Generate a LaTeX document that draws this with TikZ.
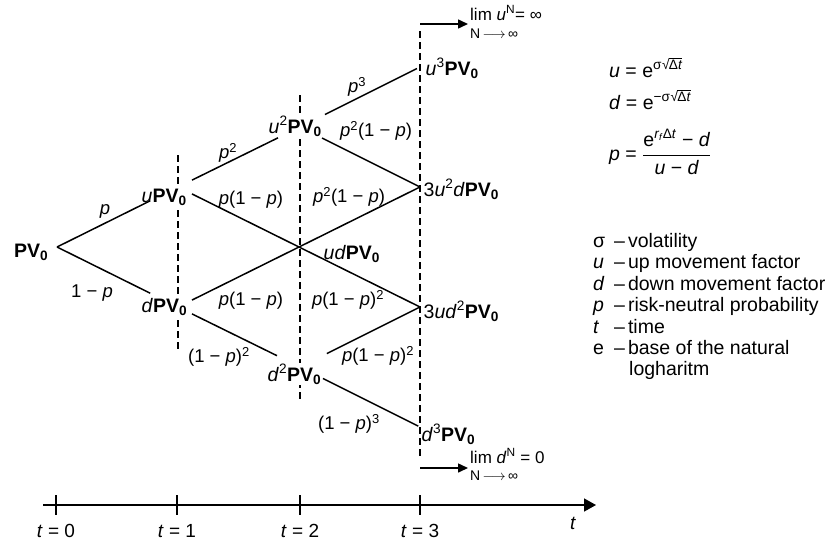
\documentclass[tikz,border=0pt]{standalone}
\usepackage{fontspec}
\setmainfont{Liberation Sans}
\usetikzlibrary{arrows.meta}
\newcommand\PVz{\textbf{PV\textsubscript{0}}}
\newcommand\sqbar[1]{√\kern-0.04em\setbox0\hbox{#1}\rlap{\rule[\dimexpr\ht0+0.1em\relax]{\wd0}{0.06em}}\box0}
\tikzset{
  lbl/.style={font=\fontsize{19.5}{21}\selectfont, inner sep=0.5pt, fill=white},
  elbl/.style={font=\fontsize{18.5}{21}\selectfont, inner sep=0pt},
  leg/.style={font=\fontsize{19.5}{21}\selectfont, inner sep=0pt, anchor=base west},
  lim/.style={font=\fontsize{17}{19}\selectfont, inner sep=0pt, anchor=west},
  limsm/.style={font=\fontsize{14}{16}\selectfont, inner sep=0pt, anchor=west},
  br/.style={line width=1.5pt},
  dsh/.style={line width=1.3pt, dash pattern=on 7pt off 4pt},
  tip/.style={-{Triangle[length=10pt,width=9pt]}},
  tlab/.style={font=\fontsize{19}{21}\selectfont, inner sep=0pt, anchor=base},
}
\begin{document}
\begin{tikzpicture}[x=1pt,y=-1pt]
\useasboundingbox[fill=white] (0,0) rectangle (834,541);
% lattice vertices
\coordinate (v0) at (57,247);
\coordinate (v1u) at (178,187);
\coordinate (v1d) at (178,307);
\coordinate (v2a) at (300,127);
\coordinate (v2b) at (300,247);
\coordinate (v2c) at (300,367);
\coordinate (v3a) at (420,67);
\coordinate (v3b) at (420,187);
\coordinate (v3c) at (420,307);
\coordinate (v3d) at (420,427);
% dashed time lines
\coordinate (d1t) at (178,155); \coordinate (d1b) at (178,352);
\coordinate (d2t) at (300,95);  \coordinate (d2b) at (300,400);
\coordinate (d3t) at (420,31);  \coordinate (d3b) at (420,458);
\draw[dsh] (d1t) -- (d1b);
\draw[dsh] (d2t) -- (d2b);
\draw[dsh] (d3t) -- (d3b);
% limit arrows
\coordinate (a1s) at (420,24); \coordinate (a1e) at (468,24);
\coordinate (a2s) at (420,468); \coordinate (a2e) at (468,468);
\draw[br,tip] (a1s) -- (a1e);
\draw[br,tip] (a2s) -- (a2e);
\node[lim] (limu) at (470,13) {lim \textit{u}\textsuperscript{N}= ∞};
\node[limsm] (limu2) at (470,34) {N\,\ensuremath{\longrightarrow}\,∞};
\node[lim] (limd) at (470,456) {lim \textit{d}\textsuperscript{N} = 0};
\node[limsm] (limd2) at (470,476) {N\,\ensuremath{\longrightarrow}\,∞};
% node labels
\node[lbl,anchor=base east] (n0) at (49,257) {\PVz};
\node[lbl,anchor=base west] (n1u) at (141,202) {\textit{u}\PVz};
\node[lbl,anchor=base west] (n1d) at (141,312) {\textit{d}\PVz};
\node[lbl,anchor=base west] (n2a) at (268,133) {\textit{u}\textsuperscript{2}\PVz};
\node[lbl,anchor=base west] (n2b) at (323,259) {\textit{ud}\PVz};
\node[lbl,anchor=base west] (n2c) at (267,381) {\textit{d}\textsuperscript{2}\PVz};
\node[lbl,anchor=base west] (n3a) at (425,75) {\textit{u}\textsuperscript{3}\PVz};
\node[lbl,anchor=base west] (n3b) at (423,196) {3\textit{u}\textsuperscript{2}\textit{d}\PVz};
\node[lbl,anchor=base west] (n3c) at (423,318) {3\textit{ud}\textsuperscript{2}\PVz};
\node[lbl,anchor=base west] (n3d) at (421,441) {\textit{d}\textsuperscript{3}\PVz};
% branches
\draw[br, shorten >=31pt] (v0) -- (v1u);
\draw[br, shorten >=31pt] (v0) -- (v1d);
\draw[br, shorten <=15.6pt, shorten >=24.5pt] (v1u) -- (v2a);
\draw[br, shorten <=27.9pt, shorten >=3.4pt] (v2a) -- (v3a);
\draw[br, shorten <=15.6pt] (v1u) -- (v3c);
\draw[br, shorten <=15.6pt] (v1d) -- (v3b);
\draw[br, shorten <=15.6pt, shorten >=25.7pt] (v1d) -- (v2c);
\draw[br, shorten <=24.6pt] (v2a) -- (v3b);
\draw[br, shorten <=30pt] (v2c) -- (v3c);
\draw[br, shorten <=25.7pt, shorten >=2pt] (v2c) -- (v3d);
% branch probabilities
\node[elbl] (e1) at (105,211) {\textit{p}};
\node[elbl] (e2) at (92,293) {1 − \textit{p}};
\node[elbl] (e3) at (228,153) {\textit{p}\textsuperscript{2}};
\node[elbl] (e4) at (251,200) {\textit{p}(1 − \textit{p})};
\node[elbl] (e5) at (357,87) {\textit{p}\textsuperscript{3}};
\node[elbl] (e6) at (376,131) {\textit{p}\textsuperscript{2}(1 − \textit{p})};
\node[elbl] (e7) at (349,197) {\textit{p}\textsuperscript{2}(1 − \textit{p})};
\node[elbl] (e8) at (251,301) {\textit{p}(1 − \textit{p})};
\node[elbl] (e9) at (348,300) {\textit{p}(1 − \textit{p})\textsuperscript{2}};
\node[elbl] (e10) at (219,357) {(1 − \textit{p})\textsuperscript{2}};
\node[elbl] (e11) at (378,356) {\textit{p}(1 − \textit{p})\textsuperscript{2}};
\node[elbl] (e12) at (349,424) {(1 − \textit{p})\textsuperscript{3}};
% formulas
\node[leg] (fu) at (609,77) {\textit{u} = e\textsuperscript{σ\kern0.5pt\sqbar{Δ\textit{t}}}};
\node[leg] (fd) at (609,109) {\textit{d} = e\textsuperscript{−σ\kern0.5pt\sqbar{Δ\textit{t}}}};
\node[leg,anchor=west] (fp) at (609,152) {\textit{p} = $\displaystyle\frac{\hbox{e\textsuperscript{\textit{r\kern0.3pt\textsubscript{f}}\kern0.5pt Δ\textit{t}} − \textit{d}}}{\hbox{\textit{u} − \textit{d}}}$};
% legend
\node[leg] (s1) at (593,247) {σ};
\node[leg] (s2) at (593,268) {\textit{u}};
\node[leg] (s3) at (593,290) {\textit{d}};
\node[leg] (s4) at (593,311) {\textit{p}};
\node[leg] (s5) at (593,333) {\textit{t}};
\node[leg] (s6) at (593,354) {e};
\node[leg] (l1) at (614,247) {–\kern3pt volatility};
\node[leg] (l2) at (614,268) {–\kern3pt up movement factor};
\node[leg] (l3) at (614,290) {–\kern3pt down movement factor};
\node[leg] (l4) at (614,311) {–\kern3pt risk-neutral probability};
\node[leg] (l5) at (614,333) {–\kern3pt time};
\node[leg] (l6) at (614,354) {–\kern3pt base of the natural};
\node[leg] (l7) at (629,375) {logharitm};
% time axis
\coordinate (ax0) at (43,505); \coordinate (ax1) at (596,505);
\draw[br,-{Triangle[length=12pt,width=13pt]}] (ax0) -- (ax1);
\foreach \x/\k in {56/0,177/1,300/2,420/3}{
  \coordinate (tk\k a) at (\x,495); \coordinate (tk\k b) at (\x,515);
  \draw[br] (tk\k a) -- (tk\k b);
  \node[tlab] (tl\k) at (\x,537) {\textit{t} = \k};
}
\node[tlab] (tt) at (573,529) {\textit{t}};
\end{tikzpicture}
\end{document}
